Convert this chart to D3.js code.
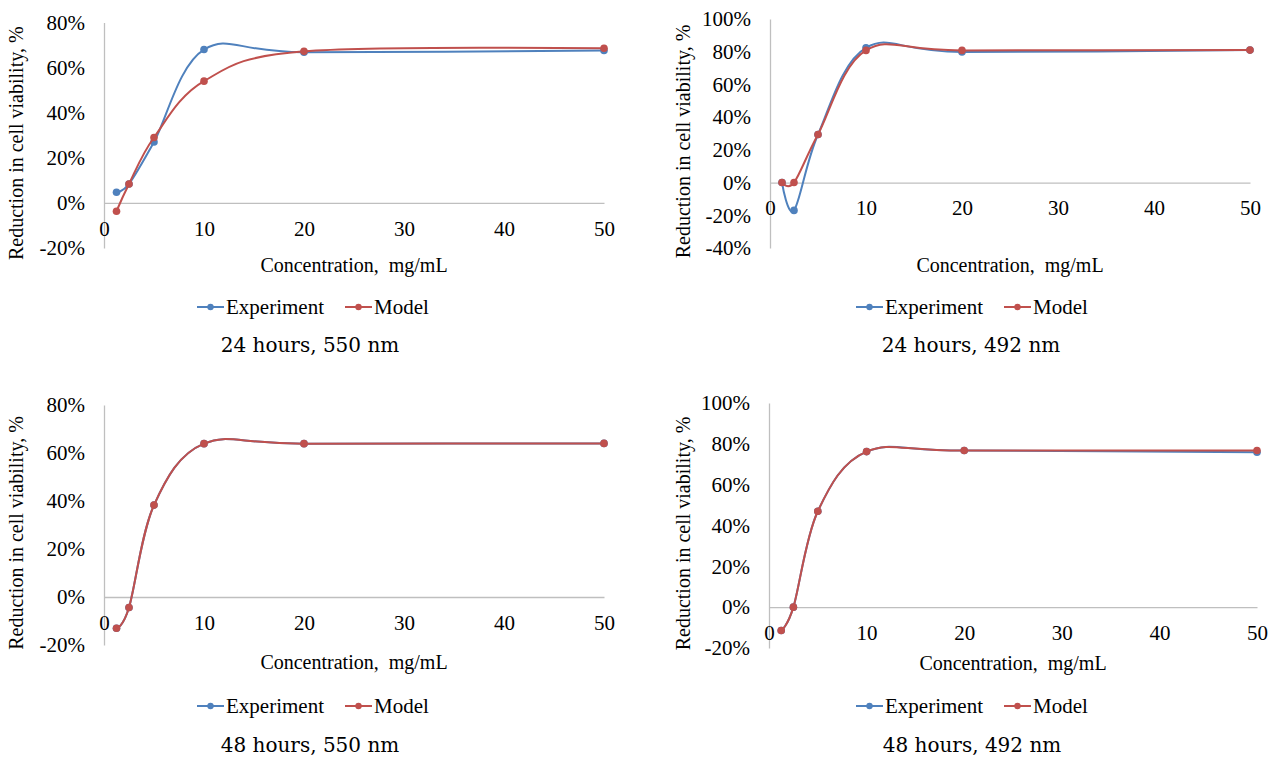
<!DOCTYPE html>
<html>
<head>
<meta charset="utf-8">
<script src="https://cdn.jsdelivr.net/npm/d3@7"></script>
<style>
  html, body { margin: 0; padding: 0; background: #fff; }
  svg { display: block; }
  text { fill: #000; }
</style>
</head>
<body>
<div id="app"></div>
<script>
// concentrations, mg/mL
const concentrations = [1.25, 2.5, 5, 10, 20, 50]
const xTicks = [0, 10, 20, 30, 40, 50]

// reduction in cell viability, %
const exp24_550 = [4.7, 8.4, 27, 68, 66.8, 67.6]
const model24_550 = [-3.7, 8.4, 29, 54, 67.2, 68.6]
const exp24_492 = [0, -17, 29.4, 82.4, 79.8, 81]
const model24_492 = [0, 0, 29.4, 80.8, 80.8, 81]
const exp48_550 = [-13, -4.4, 38.3, 63.9, 63.9, 64]
const model48_550 = [-13, -4.4, 38.3, 63.9, 63.9, 64]
const exp48_492 = [-11.4, 0, 47, 76.2, 76.7, 75.9]
const model48_492 = [-11.4, 0, 47, 76.2, 76.7, 76.7]

const yTicks80 = [-20, 0, 20, 40, 60, 80]
const yTicks100a = [-40, -20, 0, 20, 40, 60, 80, 100]
const yTicks100b = [-20, 0, 20, 40, 60, 80, 100]

const captions = ["24 hours, 550 nm", "24 hours, 492 nm", "48 hours, 550 nm", "48 hours, 492 nm"]
const seriesNames = ["Experiment", "Model"]

const exp_color = "#4f81bd"
const model_color = "#c0504d"
const axis_color = "#bfbfbf"
const serif = "'Liberation Serif', 'Times New Roman', serif"

const width = 1278
const height = 758

const root = d3.select("#app")
   .append("svg")
   .attr("width", width)
   .attr("height", height)
   .attr("viewBox", [0, 0, width, height])

root.append("rect")
   .attr("width", "100%")
   .attr("height", "100%")
   .attr("fill", "#fff")

// layout of each small chart, values come from the arrays above
const panels = [
   {exp: exp24_550, model: model24_550, yTicks: yTicks80, caption: captions[0],
    xr: [104, 604], yr: [248, 22.5], ylab: 16, xlab: 265, legend: 307, lgx: 197, cap: 345, cx: 310},
   {exp: exp24_492, model: model24_492, yTicks: yTicks100a, caption: captions[1],
    xr: [770, 1250], yr: [248, 19], ylab: 683, xlab: 265, legend: 307, lgx: 856, cap: 345, cx: 971},
   {exp: exp48_550, model: model48_550, yTicks: yTicks80, caption: captions[2],
    xr: [104, 604], yr: [645, 405], ylab: 16, xlab: 662, legend: 706, lgx: 197, cap: 745, cx: 310},
   {exp: exp48_492, model: model48_492, yTicks: yTicks100b, caption: captions[3],
    xr: [769, 1257], yr: [648, 403], ylab: 683, xlab: 663, legend: 706, lgx: 856, cap: 745, cx: 972},
]

const make_panel = (p) => {
   let x = d3.scaleLinear().domain([0, 50]).range(p.xr)
   let y = d3.scaleLinear().domain(d3.extent(p.yTicks)).range(p.yr)
   let g = root.append("g")

   // y axis
   g.append("g")
      .attr("transform", `translate(${p.xr[0]},0)`)
      .call(d3.axisLeft(y).tickValues(p.yTicks).tickSize(0).tickPadding(19).tickFormat(d => d + "%"))
      .call(a => a.select(".domain").attr("stroke", axis_color).attr("stroke-width", 1.3))
      .selectAll("text")
         .attr("font-family", serif)
         .attr("font-size", "21px")
         .attr("fill", "#000")

   // x axis sits on the zero line
   g.append("g")
      .attr("transform", `translate(0,${y(0)})`)
      .call(d3.axisBottom(x).tickValues(xTicks).tickSize(0).tickPadding(18).tickFormat(d => d))
      .call(a => a.select(".domain").attr("stroke", axis_color).attr("stroke-width", 1.3))
      .selectAll("text")
         .attr("font-family", serif)
         .attr("font-size", "21px")
         .attr("fill", "#000")

   g.append("text")
      .attr("transform", `translate(${p.ylab},${(p.yr[0] + p.yr[1]) / 2 + 8}) rotate(-90)`)
      .attr("text-anchor", "middle")
      .attr("dominant-baseline", "central")
      .attr("font-family", serif)
      .attr("font-size", "20px")
      .text("Reduction in cell viability, %")

   g.append("text")
      .attr("x", (p.xr[0] + p.xr[1]) / 2)
      .attr("y", p.xlab)
      .attr("text-anchor", "middle")
      .attr("dominant-baseline", "central")
      .attr("font-family", serif)
      .attr("font-size", "20px")
      .style("white-space", "pre")
      .text("Concentration,  mg/mL")

   let line = d3.line()
      .x(d => x(d[0]))
      .y(d => y(d[1]))
      .curve(d3.curveCardinal.tension(0))

   const series = [
      {values: p.exp, color: exp_color},
      {values: p.model, color: model_color},
   ]

   series.forEach(s => {
      let pts = concentrations.map((c, i) => [c, s.values[i]])
      g.append("path")
         .attr("d", line(pts))
         .attr("fill", "none")
         .attr("stroke", s.color)
         .attr("stroke-width", 2)
      g.append("g")
         .selectAll("circle")
         .data(pts)
         .join("circle")
         .attr("cx", d => x(d[0]))
         .attr("cy", d => y(d[1]))
         .attr("r", 3.8)
         .attr("fill", s.color)
   })

   // legend
   let legend = g.append("g")
      .attr("transform", `translate(${p.lgx},${p.legend})`)
      .selectAll("g")
      .data(seriesNames)
      .join("g")
      .attr("transform", (d, i) => `translate(${i * 148},0)`)

   legend.append("line")
      .attr("x1", 0).attr("x2", 27)
      .attr("stroke", (d, i) => i ? model_color : exp_color)
      .attr("stroke-width", 2)
   legend.append("circle")
      .attr("cx", 13.5)
      .attr("r", 3.2)
      .attr("fill", (d, i) => i ? model_color : exp_color)
   legend.append("text")
      .attr("x", 29)
      .attr("dominant-baseline", "central")
      .attr("font-family", serif)
      .attr("font-size", "21px")
      .text(d => d)

   g.append("text")
      .attr("x", p.cx)
      .attr("y", p.cap)
      .attr("text-anchor", "middle")
      .attr("dominant-baseline", "central")
      .attr("font-family", "'DejaVu Serif', serif")
      .attr("font-size", "20px")
      .text(p.caption)
}

panels.forEach(make_panel)
</script>
</body>
</html>
